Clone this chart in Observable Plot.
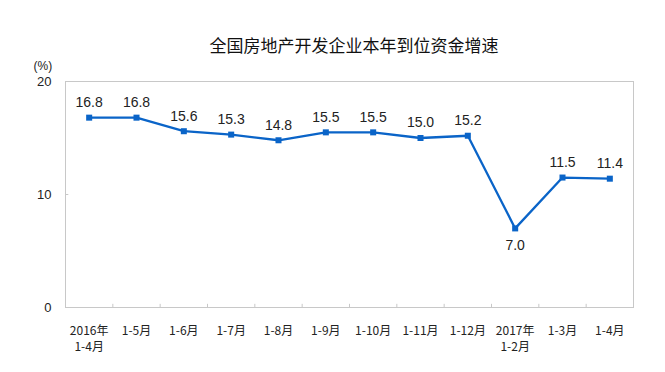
<!DOCTYPE html>
<html>
<head>
<meta charset="utf-8">
<script src="https://cdn.jsdelivr.net/npm/d3@7"></script>
<script src="https://cdn.jsdelivr.net/npm/@observablehq/plot@0.6"></script>
<style>
  body { margin: 0; background: #fff; font-family: "Liberation Sans", "Noto Sans CJK SC", sans-serif; }
  #title { height: 50px; box-sizing: border-box; padding-top: 36px; line-height: 18px; font-size: 17px;
           text-align: center; padding-left: 43px; color: #111; font-family: "Noto Sans CJK SC", sans-serif; }
</style>
</head>
<body>
<div id="title">全国房地产开发企业本年到位资金增速</div>
<div id="chart"></div>
<script>
const categories = ["2016年\n1-4月", "1-5月", "1-6月", "1-7月", "1-8月", "1-9月", "1-10月", "1-11月", "1-12月", "2017年\n1-2月", "1-3月", "1-4月"];
const values = [16.8, 16.8, 15.6, 15.3, 14.8, 15.5, 15.5, 15.0, 15.2, 7.0, 11.5, 11.4];
const yTicks = [0, 10, 20];

const data = values.map((v, i) => ({i, v, label: v.toFixed(1)}));
const minV = d3.min(values);
const bounds = d3.range(1, categories.length).map(i => i - 0.5);
const blue = "#0a64c8";

const chart = Plot.plot({
  width: 665,
  height: 322,
  marginTop: 31,
  marginBottom: 65,
  marginLeft: 65,
  marginRight: 32,
  style: {fontFamily: "'Liberation Sans', 'Noto Sans CJK SC', sans-serif", overflow: "visible"},
  x: {type: "linear", domain: [-0.5, categories.length - 0.5]},
  y: {domain: [0, 20]},
  marks: [
    Plot.frame({stroke: "#c8c8c8"}),
    Plot.ruleX(bounds, {y1: 0, y2: 0.28, stroke: "#c8c8c8"}),
    Plot.ruleY([10], {x1: -0.5, x2: -0.5 + 0.07, stroke: "#c8c8c8"}),
    Plot.axisY({ticks: yTicks, tickSize: 0, tickPadding: 14, label: null, fontSize: 13, fill: "#222"}),
    Plot.axisX({ticks: d3.range(categories.length), tickFormat: i => categories[i], tickSize: 0,
                tickPadding: 16, label: null, fontSize: 12, lineHeight: 1.35, fill: "#222",
                fontFamily: "'Noto Sans CJK SC', sans-serif"}),
    Plot.text(["(%)"], {frameAnchor: "top-left", dx: -32, dy: -20, fontSize: 12, fill: "#222"}),
    Plot.line(data, {x: "i", y: "v", stroke: blue, strokeWidth: 2.3}),
    Plot.dot(data, {x: "i", y: "v", symbol: "square", r: 3.4, fill: blue}),
    Plot.text(data.filter(d => d.v !== minV), {x: "i", y: "v", text: "label", dy: -15, fontSize: 14, fill: "#222"}),
    Plot.text(data.filter(d => d.v === minV), {x: "i", y: "v", text: "label", dy: 17, fontSize: 14, fill: "#222"})
  ]
});
document.getElementById("chart").appendChild(chart);
</script>
</body>
</html>
